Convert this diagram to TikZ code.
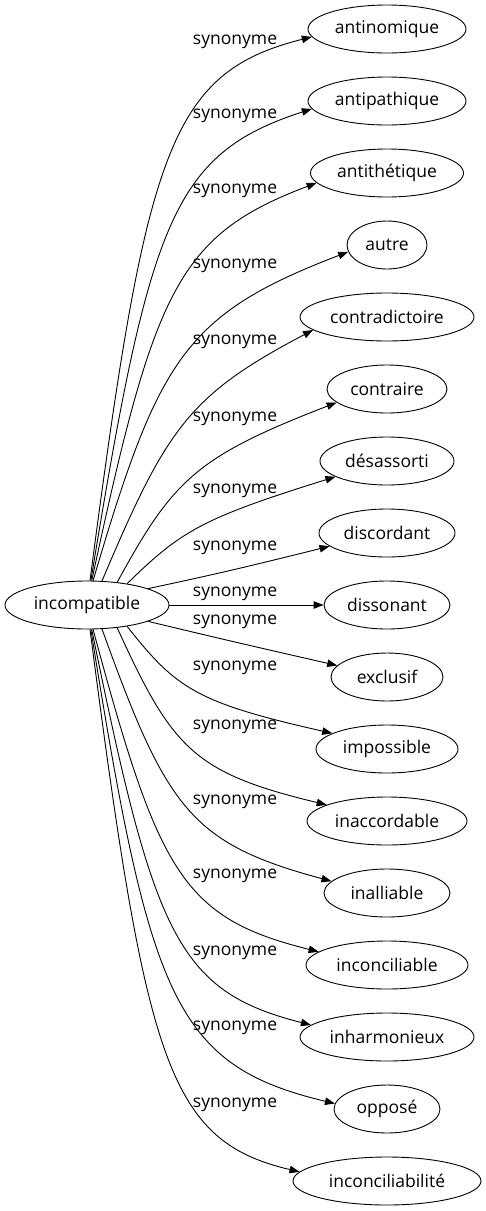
\documentclass[tikz,border=0pt]{standalone}
\usepackage{fontspec}
\setmainfont{Open Sans}
\usetikzlibrary{arrows.meta,shapes.geometric,calc}
\newcommand\synedge[4]{%
  \draw[synline] (inc.#1) .. controls ($(inc.#1)!0.85!#2$) and ($(#3.#4)!0.92!#2$) .. (#3.#4);}
\begin{document}
\begin{tikzpicture}[x=1pt,y=-1pt,
  word/.style={draw, ellipse, line width=0.9pt, minimum height=48pt, inner sep=0pt,
    font=\fontsize{17.5}{20}\selectfont},
  lab/.style={inner sep=0pt, font=\fontsize{17.5}{20}\selectfont},
  synline/.style={line width=0.9pt, -{Triangle[length=10pt,width=7.5pt]}}]
\useasboundingbox (0,0) rectangle (485,1211);
\node[word, minimum width=164pt] (inc) at (87,605) {incompatible};
\node[word, minimum width=158pt] (t0) at (387,29) {antinomique};
\node[word, minimum width=158pt] (t1) at (387,101) {antipathique};
\node[word, minimum width=153pt] (t2) at (387,173) {antithétique};
\node[word, minimum width=80pt] (t3) at (387,245) {autre};
\node[word, minimum width=174pt] (t4) at (387,317) {contradictoire};
\node[word, minimum width=120pt] (t5) at (387,389) {contraire};
\node[word, minimum width=134pt] (t6) at (387,461) {désassorti};
\node[word, minimum width=136pt] (t7) at (387,533) {discordant};
\node[word, minimum width=126pt] (t8) at (387,605) {dissonant};
\node[word, minimum width=112pt] (t9) at (387,677) {exclusif};
\node[word, minimum width=142pt] (t10) at (387,749) {impossible};
\node[word, minimum width=160pt] (t11) at (387,821) {inaccordable};
\node[word, minimum width=126pt] (t12) at (387,893) {inalliable};
\node[word, minimum width=162pt] (t13) at (387,965) {inconciliable};
\node[word, minimum width=174pt] (t14) at (387,1037) {inharmonieux};
\node[word, minimum width=106pt] (t15) at (387,1109) {opposé};
\node[word, minimum width=188pt] (t16) at (387,1181) {inconciliabilité};
% labels
\foreach \i/\y in {0/42,1/116,2/191,3/266,4/342,5/419,6/491,7/548,8/594,
  9/622,10/668,11/727,12/802,13/876,14/953,15/1028,16/1105}
  \node[lab] (lab\i) at (235,\y) {synonyme};
% edges, upper half
\synedge{83}{(156,76)}{t0}{186}
\synedge{81}{(160,158)}{t1}{186}
\synedge{79}{(165,240)}{t2}{188}
\synedge{76}{(170,320)}{t3}{190}
\synedge{58}{(178,401)}{t4}{190}
\synedge{37}{(183,462)}{t5}{195}
\synedge{28}{(190,522)}{t6}{197}
\synedge{15}{(230,571)}{t7}{193}
\draw[synline] (inc.east) -- (t8.west);
% edges, lower half
\synedge{345}{(230,641)}{t9}{167}
\synedge{332}{(185,700)}{t10}{164}
\synedge{323}{(182,770)}{t11}{165}
\synedge{302}{(178,840)}{t12}{168}
\synedge{284}{(170,915)}{t13}{169}
\synedge{281}{(165,988)}{t14}{171}
\synedge{279}{(160,1062)}{t15}{174}
\synedge{277}{(156,1138)}{t16}{174}
\end{tikzpicture}
\end{document}
